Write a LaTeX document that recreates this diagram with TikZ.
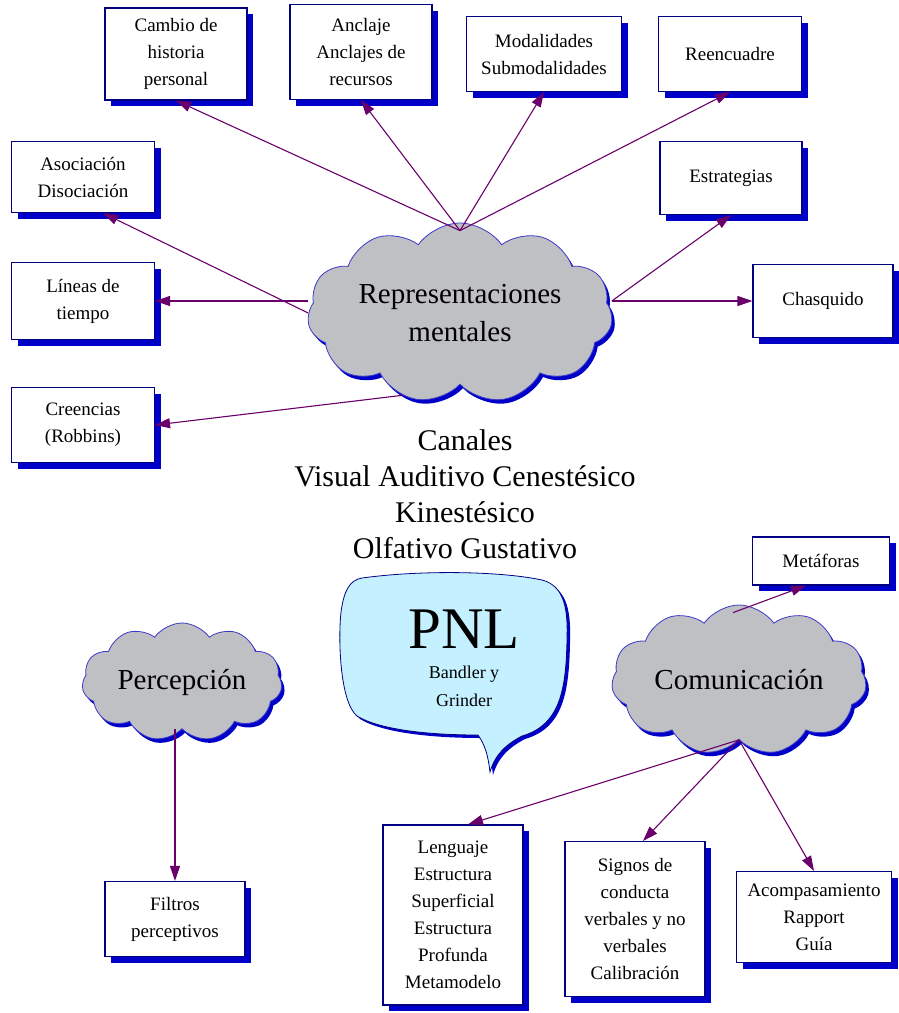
\documentclass[tikz,border=0pt]{standalone}
\usepackage{fontspec}
\setmainfont{Liberation Serif}
\usetikzlibrary{arrows.meta,shapes.symbols,shadows}
\definecolor{pnlNavy}{HTML}{000080}
\definecolor{pnlShadow}{HTML}{0000C8}
\definecolor{pnlPurple}{HTML}{6A006A}
\definecolor{pnlGray}{HTML}{BFC0C4}
\definecolor{pnlCyan}{HTML}{C4F0FF}
\definecolor{pnlCloudLine}{HTML}{3A3AC8}
\tikzset{
  pnl map/.style={x=1pt, y=-1pt, >={Triangle[length=15pt,width=10pt]}},
  pnl box/.style={draw=pnlNavy, line width=1.1pt, fill=white, align=center,
    inner sep=2pt, font=\fontsize{19}{27}\selectfont,
    drop shadow={shadow xshift=6pt, shadow yshift=-6pt, fill=pnlShadow, opacity=1}},
  pnl cloud/.style={cloud, cloud puffs=11, cloud puff arc=110, aspect=2.1,
    draw=pnlCloudLine, line width=0.8pt, fill=pnlGray, inner sep=0pt,
    align=center, font=\fontsize{29}{38}\selectfont,
    drop shadow={shadow xshift=3pt, shadow yshift=-4pt, fill=pnlShadow, opacity=1}},
  pnl bubble/.style={draw=pnlNavy, line width=0.8pt, fill=pnlCyan,
    drop shadow={shadow xshift=3pt, shadow yshift=-3pt, fill=pnlShadow, opacity=1}},
  pnl arrow/.style={->, draw=pnlPurple, line width=1.1pt}
}

\begin{document}
\begin{tikzpicture}[pnl map]
  \useasboundingbox (0,0) rectangle (899,1013);

  % clouds
  \node[pnl cloud, minimum width=305pt, minimum height=180pt] (rm) at (460,313)
    {Representaciones\\mentales};
  \node[pnl cloud, minimum width=200pt, minimum height=118pt] (perc) at (182,682)
    {Percepción};
  \node[pnl cloud, minimum width=255pt, minimum height=150pt] (com) at (739,680)
    {Comunicación};

  % speech bubble
  \draw[pnl bubble] (362,578) .. controls (420,570) and (500,571) .. (542,580)
    .. controls (565,586) and (568,610) .. (567,640)
    .. controls (566,690) and (560,725) .. (522,736)
    .. controls (505,745) and (495,755) .. (490,772)
    .. controls (488,755) and (485,745) .. (478,735)
    .. controls (430,735) and (380,730) .. (357,716)
    .. controls (340,702) and (338,640) .. (341,612)
    .. controls (344,590) and (350,580) .. (362,578) -- cycle;
  \node[align=center, font=\fontsize{18}{28}\selectfont] (pnl) at (464,658)
    {{\fontsize{59}{60}\selectfont PNL}\\[2pt]Bandler y\\Grinder};

  \node[align=center, font=\fontsize{30}{36}\selectfont] (canales) at (465,494)
    {Canales\\Visual Auditivo Cenestésico\\Kinestésico\\Olfativo Gustativo};

  % boxes
  \node[pnl box, minimum width=142pt, minimum height=92pt] (cambio) at (176,54)
    {Cambio de\\historia\\personal};
  \node[pnl box, minimum width=142pt, minimum height=95pt] (anclaje) at (361,52)
    {Anclaje\\Anclajes de\\recursos};
  \node[pnl box, minimum width=155pt, minimum height=75pt] (modal) at (544,54)
    {Modalidades\\Submodalidades};
  \node[pnl box, minimum width=143pt, minimum height=75pt] (reenc) at (730,54)
    {Reencuadre};
  \node[pnl box, minimum width=143pt, minimum height=71pt] (asoc) at (83,177)
    {Asociación\\Disociación};
  \node[pnl box, minimum width=143pt, minimum height=77pt] (lineas) at (83,301)
    {Líneas de\\tiempo};
  \node[pnl box, minimum width=143pt, minimum height=75pt] (creen) at (83,425)
    {Creencias\\(Robbins)};
  \node[pnl box, minimum width=142pt, minimum height=73pt] (estrat) at (731,178)
    {Estrategias};
  \node[pnl box, minimum width=140pt, minimum height=73pt] (chasq) at (823,301)
    {Chasquido};
  \node[pnl box, minimum width=137pt, minimum height=48pt] (metaf) at (821,561)
    {Metáforas};
  \node[pnl box, minimum width=140pt, minimum height=75pt] (filtros) at (175,919)
    {Filtros\\perceptivos};
  \node[pnl box, minimum width=140pt, minimum height=180pt] (leng) at (453,915)
    {Lenguaje\\Estructura\\Superficial\\Estructura\\Profunda\\Metamodelo};
  \node[pnl box, minimum width=140pt, minimum height=155pt] (signos) at (635,919)
    {Signos de\\conducta\\verbales y no\\verbales\\Calibración};
  \node[pnl box, minimum width=155pt, minimum height=91pt] (acomp) at (814,917)
    {Acompasamiento\\Rapport\\Guía};

  % connectors
  \coordinate (rmtop) at ([yshift=-8pt]rm.north);
  \coordinate (comtop) at ([xshift=-6pt,yshift=-8pt]com.north);
  \draw[pnl arrow] (rmtop) -- (cambio.south);
  \draw[pnl arrow] (rmtop) -- (anclaje.south);
  \draw[pnl arrow] (rmtop) -- (modal.south);
  \draw[pnl arrow] (rmtop) -- (reenc.south);
  \draw[pnl arrow] (rm.west) -- ([xshift=20pt]asoc.south);
  \draw[pnl arrow] (lineas.east -| rm.west) -- (lineas.east);
  \draw[pnl arrow] (rm.-125) -- (creen.east);
  \draw[pnl arrow] (chasq.west -| rm.east) -- (estrat.south);
  \draw[pnl arrow] (chasq.west -| rm.east) -- (chasq.west);
  \draw[pnl arrow] (comtop) -- ([xshift=-15pt]metaf.south);
  \draw[pnl arrow] (perc.south -| filtros.north) -- (filtros.north);
  \draw[pnl arrow] (com.south) -- ([xshift=15pt]leng.north);
  \draw[pnl arrow] (com.south) -- ([xshift=8pt]signos.north);
  \draw[pnl arrow] (com.south) -- (acomp.north);
\end{tikzpicture}
\end{document}
